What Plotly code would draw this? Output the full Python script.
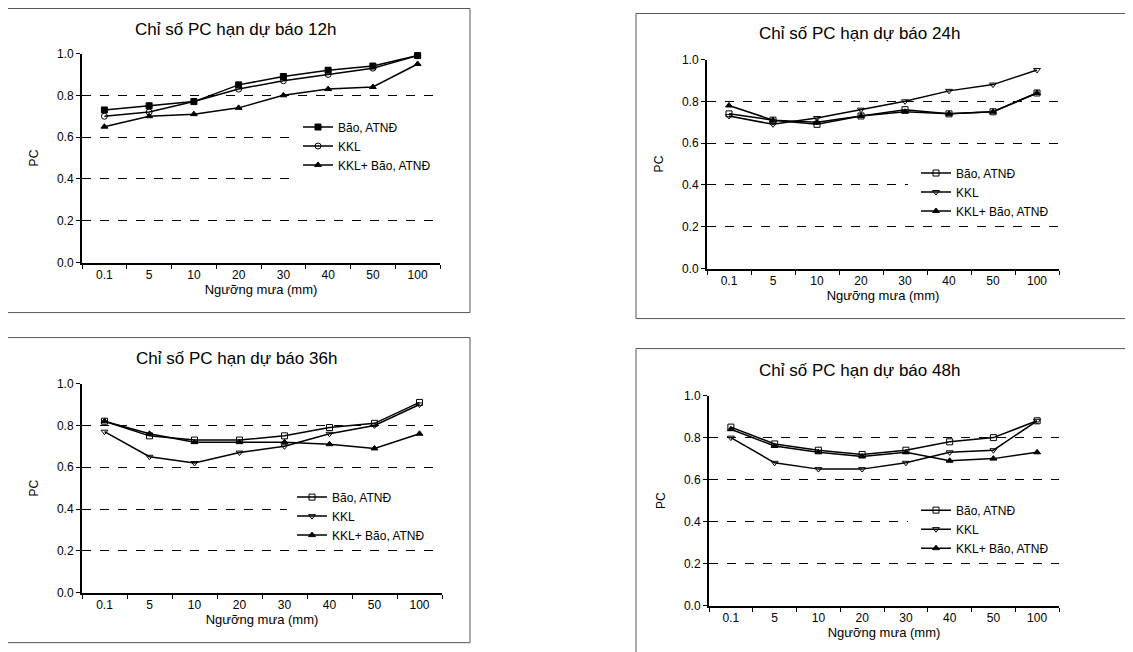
import plotly.graph_objects as go

# page has an 8px body margin; figure is sized so that the page is 1133x652
OFF = 8
W, H = 1133 - OFF, 652 - OFF

categories = ["0.1", "5", "10", "20", "30", "40", "50", "100"]
series_names = ["Bão, ATNĐ", "KKL", "KKL+ Bão, ATNĐ"]
panel_titles = ["Chỉ số PC hạn dự báo 12h", "Chỉ số PC hạn dự báo 24h",
                "Chỉ số PC hạn dự báo 36h", "Chỉ số PC hạn dự báo 48h"]
y_ticks = [0.0, 0.2, 0.4, 0.6, 0.8, 1.0]
x_title = "Ngưỡng mưa (mm)"
y_title = "PC"

# 12h
bao_12 = [0.73, 0.75, 0.77, 0.85, 0.89, 0.92, 0.94, 0.99]
kkl_12 = [0.70, 0.72, 0.77, 0.83, 0.87, 0.90, 0.93, 0.99]
kklbao_12 = [0.65, 0.70, 0.71, 0.74, 0.80, 0.83, 0.84, 0.95]
# 24h
bao_24 = [0.74, 0.71, 0.69, 0.73, 0.76, 0.74, 0.75, 0.84]
kkl_24 = [0.73, 0.69, 0.72, 0.76, 0.80, 0.85, 0.88, 0.95]
kklbao_24 = [0.78, 0.71, 0.70, 0.73, 0.75, 0.74, 0.75, 0.84]
# 36h
bao_36 = [0.82, 0.75, 0.73, 0.73, 0.75, 0.79, 0.81, 0.91]
kkl_36 = [0.77, 0.65, 0.62, 0.67, 0.70, 0.76, 0.80, 0.90]
kklbao_36 = [0.82, 0.76, 0.72, 0.72, 0.72, 0.71, 0.69, 0.76]
# 48h
bao_48 = [0.85, 0.77, 0.74, 0.72, 0.74, 0.78, 0.80, 0.88]
kkl_48 = [0.80, 0.68, 0.65, 0.65, 0.68, 0.73, 0.74, 0.88]
kklbao_48 = [0.84, 0.76, 0.73, 0.71, 0.73, 0.69, 0.70, 0.73]

panel_data = [
    (bao_12, kkl_12, kklbao_12),
    (bao_24, kkl_24, kklbao_24),
    (bao_36, kkl_36, kklbao_36),
    (bao_48, kkl_48, kklbao_48),
]

# geometry in page pixels: (axis left, axis right, y=1.0 top, y=0 bottom)
geom = [(82, 440, 53, 262), (707, 1059, 59, 268), (82, 442, 383, 592), (709, 1059, 395, 605)]
boxes = [(5, 470, 8, 312), (636, 1145, 13, 318), (5, 470, 337, 642), (636, 1145, 348, 670)]
title_pos = [(235, 29), (859, 33), (236, 358), (859, 370)]
legend_pos = [(298, 112), (916, 158), (292, 482), (916, 495)]
# white patches hiding the grid behind each legend: (x0, x1, y0, y1) in page px
legend_patch = [(298, 443, 117, 184), (908, 1062, 163, 222), (287, 445, 487, 546), (908, 1062, 500, 559)]

symbols = [
    ["square", "circle-open", "triangle-up"],
    ["square-open", "triangle-down-open", "triangle-up"],
    ["square-open", "triangle-down-open", "triangle-up"],
    ["square-open", "triangle-down-open", "triangle-up"],
]

FONT = "Liberation Sans, Arial, sans-serif"


def px_x(x):
    return (x - OFF) / W


def px_y(y):
    fy = (y - 14.5) / 0.978
    return 1 - fy / H


fig = go.Figure()
layout = dict(
    width=W, height=H, margin=dict(l=0, r=0, t=0, b=0),
    paper_bgcolor="white", plot_bgcolor="white",
    font=dict(family=FONT, color="black", size=11),
    shapes=[], annotations=[],
)

for i in range(4):
    n = "" if i == 0 else str(i + 1)
    xl, xr, yt, yb = geom[i]
    layout["xaxis" + n] = dict(
        domain=[px_x(xl), px_x(xr)], anchor="y" + n,
        type="category", range=[-0.5, 7.5],
        showline=True, linecolor="black", linewidth=2,
        ticks="outside", tickson="boundaries", ticklen=4, tickcolor="black", tickwidth=1,
        showgrid=False, zeroline=False,
        tickfont=dict(size=12, family=FONT, color="black"),
        title=dict(text=x_title, font=dict(size=13, family=FONT), standoff=1),
    )
    layout["yaxis" + n] = dict(
        domain=[px_y(yb), px_y(yt)], anchor="x" + n,
        range=[0, 1.0], tickvals=y_ticks, tickformat=".1f",
        showline=True, linecolor="black", linewidth=2,
        ticks="outside", ticklen=4, tickcolor="black",
        showgrid=True, gridcolor="black", gridwidth=1.3, griddash="dash",
        zeroline=False,
        tickfont=dict(size=12, family=FONT, color="black"),
        title=dict(text=y_title, font=dict(size=12, family=FONT), standoff=16),
    )
    lg = "legend" if i == 0 else "legend" + str(i + 1)
    lx, ly = legend_pos[i]
    layout[lg] = dict(
        x=px_x(lx), y=px_y(ly), xanchor="left", yanchor="top",
        bgcolor="white", borderwidth=0,
        font=dict(size=12, family=FONT, color="black"),
        itemwidth=30, tracegroupgap=0,
    )
    for s in range(3):
        fig.add_trace(go.Scatter(
            x=categories, y=panel_data[i][s], name=series_names[s],
            mode="lines+markers", xaxis="x" + n, yaxis="y" + n,
            line=dict(color="black", width=1.5),
            marker=dict(symbol=symbols[i][s], size=6, color="black",
                        line=dict(color="black", width=1)),
            legend=lg, cliponaxis=False,
        ))
    bx0, bx1, by0, by1 = boxes[i]
    layout["shapes"].append(dict(
        type="rect", xref="paper", yref="paper",
        x0=px_x(bx0), x1=px_x(bx1), y0=px_y(by1), y1=px_y(by0),
        line=dict(color="#555", width=1), fillcolor="rgba(0,0,0,0)", layer="below",
    ))
    px0, px1, py0, py1 = legend_patch[i]
    layout["shapes"].append(dict(
        type="rect", xref="paper", yref="paper",
        x0=px_x(px0), x1=px_x(px1), y0=px_y(py1), y1=px_y(py0),
        line=dict(width=0), fillcolor="white", layer="above",
    ))
    tx, ty = title_pos[i]
    layout["annotations"].append(dict(
        text=panel_titles[i], x=px_x(tx), y=px_y(ty), xref="paper", yref="paper",
        xanchor="center", yanchor="middle", showarrow=False,
        font=dict(size=17, family=FONT, color="black"),
    ))

fig.update_layout(**layout)
fig.write_html("out.html")
